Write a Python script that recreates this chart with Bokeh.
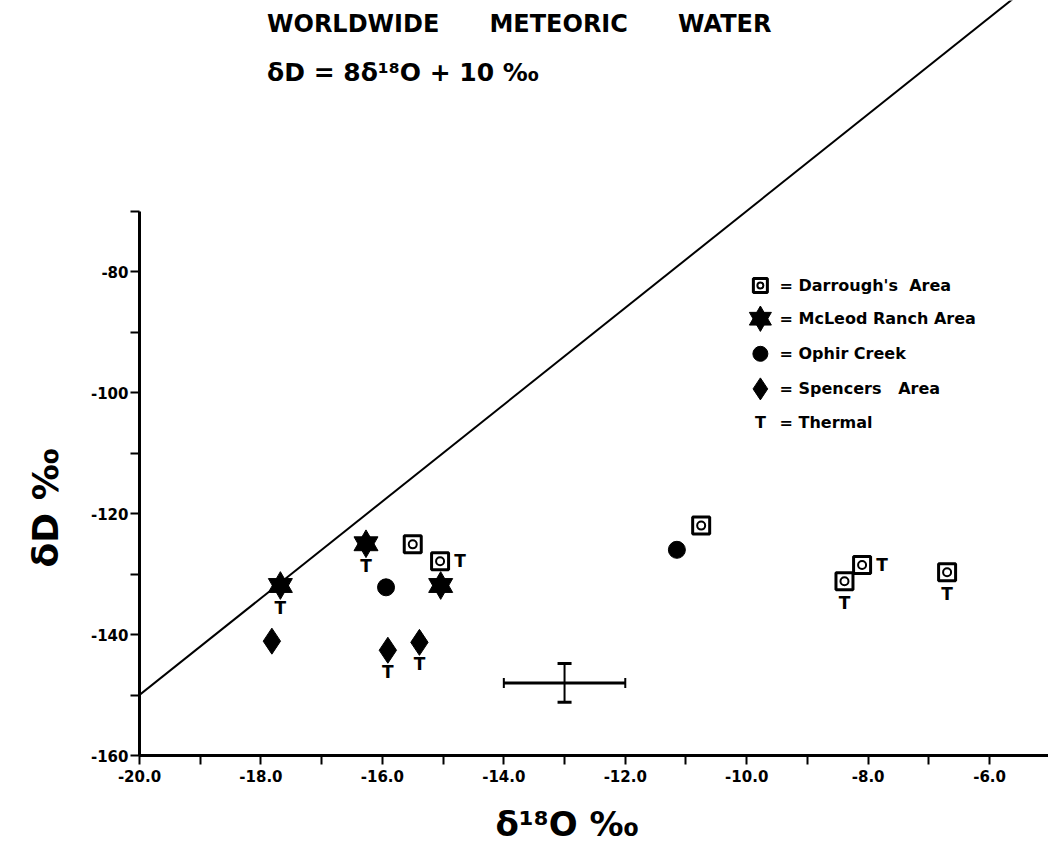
from bokeh.plotting import figure
from bokeh.models import Range1d, FixedTicker, Label, ColumnDataSource, Title
from bokeh.core.properties import value
from bokeh.embed import file_html
from bokeh.resources import INLINE

# ---------------- data ----------------
darrough_x = [-15.50, -15.05, -10.75, -8.39, -8.10, -6.70]
darrough_y = [-125.1, -127.9, -122.0, -131.2, -128.5, -129.7]
darrough_thermal = ["", "right", "", "below", "right", "below"]

mcleod_x = [-17.68, -16.27, -15.04]
mcleod_y = [-131.9, -125.0, -131.9]
mcleod_thermal = ["below", "below", ""]

ophir_x = [-15.94, -11.15]
ophir_y = [-132.2, -126.0]
ophir_thermal = ["", ""]

spencers_x = [-17.82, -15.91, -15.39]
spencers_y = [-141.1, -142.6, -141.3]
spencers_thermal = ["", "below", "below"]

# worldwide meteoric water line end points
line_x = [-20.0, -5.0]
line_y = [-150.0, -30.0]

# analytical error bar
err_x = [-13.0]
err_y = [-148.0]
err_dx = [1.0]
err_dy = [3.2]

x_ticks = [-20, -19, -18, -17, -16, -15, -14, -13, -12, -11, -10, -9, -8, -7, -6, -5]
x_tick_labels = ["-20.0", "-18.0", "-16.0", "-14.0", "-12.0", "-10.0", "-8.0", "-6.0"]
x_labelled = [-20, -18, -16, -14, -12, -10, -8, -6]
y_ticks = [-160, -150, -140, -130, -120, -110, -100, -90, -80, -70]
y_tick_labels = ["-160", "-140", "-120", "-100", "-80"]
y_labelled = [-160, -140, -120, -100, -80]

NB = "\u00a0"
legend_labels = ["= Darrough's" + NB * 2 + "Area", "= McLeod Ranch" + NB + "Area",
                 "= Ophir Creek", "= Spencers" + NB * 3 + "Area", "= Thermal"]
title_1 = "WORLDWIDE" + NB * 6 + "METEORIC" + NB * 6 + "WATER"
title_2 = "δD = 8δ¹⁸O + 10 ‰"
x_title = "δ¹⁸O ‰"
y_title = "δD ‰"

FONT = "DejaVu Sans"

p = figure(width=1048, height=863, output_backend="svg", toolbar_location=None,
           x_range=Range1d(-20.0, -5.03), y_range=Range1d(-160.0, -35.2),
           min_border_left=138, min_border_right=0, min_border_top=0,
           min_border_bottom=108)
p.outline_line_color = None
p.grid.visible = False
p.background_fill_color = "white"

# axes
xa = p.xaxis[0]
xa.ticker = FixedTicker(ticks=x_ticks)
xa.major_label_overrides = {t: (x_tick_labels[x_labelled.index(t)] if t in x_labelled else "")
                            for t in x_ticks}
xa.bounds = (-20, -5)
ya = p.yaxis[0]
ya.ticker = FixedTicker(ticks=y_ticks)
ya.major_label_overrides = {t: (y_tick_labels[y_labelled.index(t)] if t in y_labelled else "")
                            for t in y_ticks}
ya.bounds = (-160, -70)
for ax in (xa, ya):
    ax.axis_line_width = 3
    ax.axis_line_color = "black"
    ax.major_tick_line_width = 2
    ax.major_tick_line_color = "black"
    ax.major_tick_out = 9
    ax.major_tick_in = 0
    ax.minor_tick_line_color = None
    ax.major_label_text_font = FONT
    ax.major_label_text_font_style = "bold"
    ax.major_label_text_font_size = "15px"
    ax.major_label_text_color = "black"
ya.major_label_standoff = 2
xa.major_label_standoff = 5

# axis titles placed as in the original
p.add_layout(Title(text=x_title, align="left", offset=356, standoff=34, text_font=FONT,
                   text_font_style="bold", text_font_size="34px", text_color="black"), "below")
p.add_layout(Title(text=y_title, align="left", offset=188, standoff=44, text_font=FONT,
                   text_font_style="bold", text_font_size="36px", text_color="black"), "left")

# meteoric water line
p.line(line_x, line_y, line_color="black", line_width=2)

# error bar
ex0 = [x - d for x, d in zip(err_x, err_dx)]
ex1 = [x + d for x, d in zip(err_x, err_dx)]
ey0 = [y - d for y, d in zip(err_y, err_dy)]
ey1 = [y + d for y, d in zip(err_y, err_dy)]
p.segment(x0=ex0, y0=err_y, x1=ex1, y1=err_y, line_color="black", line_width=3)
p.segment(x0=err_x, y0=ey0, x1=err_x, y1=ey1, line_color="black", line_width=2)
p.scatter(x=err_x * 2, y=ey0 + ey1, marker="dash", size=14, line_color="black", line_width=3)
p.scatter(x=ex0 + ex1, y=err_y * 2, marker="dash", size=10, angle=1.5708,
          line_color="black", line_width=2)

# data points
p.scatter(darrough_x, darrough_y, marker="square", size=17, fill_color="white",
          line_color="black", line_width=3)
p.scatter(darrough_x, darrough_y, marker="circle", size=8, fill_color=None,
          line_color="black", line_width=2)
for mk in ("triangle", "inverted_triangle"):
    p.scatter(mcleod_x, mcleod_y, marker=mk, size=24, fill_color="black", line_color="black")
p.scatter(ophir_x, ophir_y, marker="circle", size=17, fill_color="black", line_color="black")
p.scatter(spencers_x, spencers_y, marker="diamond", size=26, fill_color="black",
          line_color="black")

# thermal markers
tx, ty, txo, tyo = [], [], [], []
for xs, ys, fl in ((darrough_x, darrough_y, darrough_thermal),
                   (mcleod_x, mcleod_y, mcleod_thermal),
                   (ophir_x, ophir_y, ophir_thermal),
                   (spencers_x, spencers_y, spencers_thermal)):
    for x, y, f in zip(xs, ys, fl):
        if f:
            tx.append(x)
            ty.append(y)
            txo.append(20 if f == "right" else 0)
            tyo.append(22 if f == "below" else 0)
tsrc = ColumnDataSource(dict(x=tx, y=ty, xo=txo, yo=tyo, t=["T"] * len(tx)))
p.text(x="x", y="y", text="t", x_offset="xo", y_offset="yo", source=tsrc,
       text_font=value(FONT), text_font_style="bold", text_font_size="17px",
       text_align="center", text_baseline="middle", text_color="black")

# legend (drawn by hand, in the style of the original)
lx, ltx = -9.775, -9.46
ly = [-82.3, -87.8, -93.6, -99.4, -104.9]
p.scatter([lx], [ly[0]], marker="square", size=14, fill_color="white", line_color="black", line_width=3)
p.scatter([lx], [ly[0]], marker="circle", size=6, fill_color=None, line_color="black", line_width=2)
for mk in ("triangle", "inverted_triangle"):
    p.scatter([lx], [ly[1]], marker=mk, size=22, fill_color="black", line_color="black")
p.scatter([lx], [ly[2]], marker="circle", size=15, fill_color="black", line_color="black")
p.scatter([lx], [ly[3]], marker="diamond", size=22, fill_color="black", line_color="black")
p.text(x=[lx], y=[ly[4]], text=["T"], text_font=value(FONT), text_font_style="bold",
       text_font_size="16px", text_align="center", text_baseline="middle", text_color="black")
for yy, lab in zip(ly, legend_labels):
    p.add_layout(Label(x=ltx, y=yy, text=lab, text_font=FONT, text_font_style="bold",
                       text_font_size="16px", text_baseline="middle", text_color="black"))

# title inside the plot area
p.add_layout(Label(x=-17.90, y=-39.06, text=title_1, text_font=FONT, text_color="black",
                   text_font_style="bold", text_font_size="24px", text_baseline="middle"))
p.add_layout(Label(x=-17.90, y=-47.06, text=title_2, text_font=FONT, text_color="black",
                   text_font_style="bold", text_font_size="25px", text_baseline="middle"))

open("out.html", "w").write(file_html(p, INLINE))
